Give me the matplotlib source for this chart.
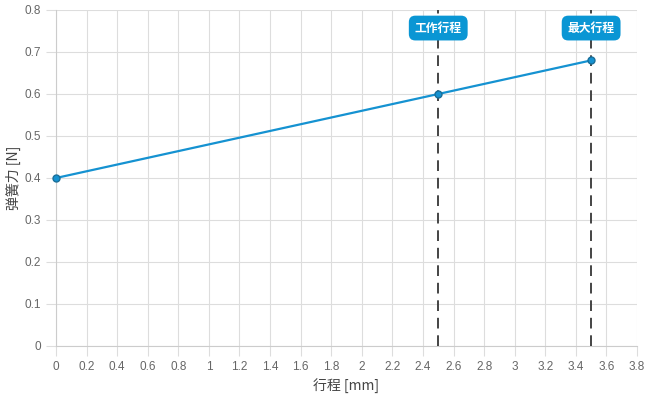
import matplotlib
matplotlib.use("Agg")
import matplotlib.pyplot as plt

plt.rcParams['font.family'] = ['Liberation Sans', 'Noto Sans CJK JP', 'DejaVu Sans']

stroke = [0, 2.5, 3.5]
force = [0.4, 0.6, 0.68]
marker_labels = ["工作行程", "最大行程"]
marker_positions = [2.5, 3.5]
xticks = [round(0.2 * i, 1) for i in range(20)]
yticks = [round(0.1 * i, 1) for i in range(9)]

line_color = "#1592d1"
grid_color = "#dddddd"
text_color = "#666666"

fig = plt.figure(figsize=(6.5, 4), dpi=100)
ax = fig.add_axes([56/650, 1-346/400, (637-56)/650, (346-10)/400])

ax.plot(stroke, force, color=line_color, lw=1.6, marker='o', ms=5,
        mfc=line_color, mec="#1a6f99", mew=1, zorder=4, clip_on=False)

for xp, lab in zip(marker_positions, marker_labels):
    ax.axvline(xp, color="#444444", lw=1.4, ls=(0, (5.5, 3.5)), zorder=3)
    ax.text(xp, 0.757, lab, ha='center', va='center', color='white', fontsize=8.5,
            fontweight='bold', family=['Noto Sans CJK JP', 'DejaVu Sans'], zorder=5,
            bbox=dict(boxstyle='round,pad=0.5,rounding_size=0.55', fc="#0a96d4", ec='none'))

ax.set_xlim(0, 3.8)
ax.set_ylim(0, 0.8)
ax.set_xticks(xticks)
ax.set_yticks(yticks)
ax.set_xticklabels(["0" if v == 0 else f"{v:g}" for v in xticks])
ax.set_yticklabels(["0" if v == 0 else f"{v:g}" for v in yticks])
ax.grid(True, color=grid_color, lw=0.8)
ax.set_axisbelow(True)
for s in ax.spines.values():
    s.set_visible(False)
ax.spines['left'].set_visible(True)
ax.spines['bottom'].set_visible(True)
ax.spines['left'].set_color("#cccccc")
ax.spines['bottom'].set_color("#cccccc")
ax.tick_params(axis='both', colors=grid_color, length=7, width=0.8, labelcolor=text_color, labelsize=8.5, pad=4)

ax.set_xlabel("行程 [mm]", color="#444444", fontsize=10,
              family=['Noto Sans CJK JP', 'DejaVu Sans'])
ax.set_ylabel("弹簧力 [N]", color="#444444", fontsize=10,
              family=['Noto Sans CJK JP', 'DejaVu Sans'])
ax.xaxis.set_label_coords(0.5, (346 - 386) / 336, transform=ax.transAxes)
ax.yaxis.set_label_coords((13 - 56) / 581, 0.5, transform=ax.transAxes)
ax.xaxis.label.set_va('center')
ax.yaxis.label.set_va('center')

fig.savefig("out.png", dpi=100)
